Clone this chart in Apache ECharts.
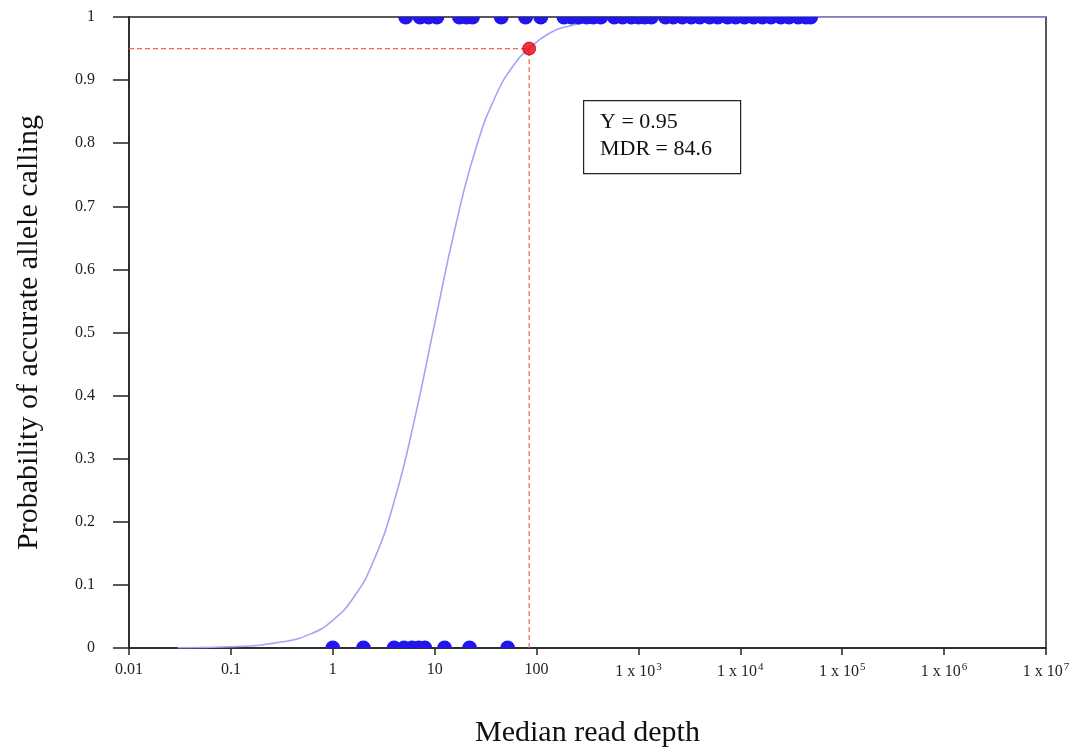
<!DOCTYPE html>
<html>
<head>
<meta charset="utf-8">
<script src="https://cdn.jsdelivr.net/npm/echarts@6/dist/echarts.min.js"></script>
<style>html,body{margin:0;padding:0;background:#fff}#c{width:1079px;height:747px}</style>
</head>
<body>
<div id="c"></div>
<script>
// ---- data ----
var xTickLabels = ['0.01','0.1','1','10','100','1 x 10{sup|3}','1 x 10{sup|4}','1 x 10{sup|5}','1 x 10{sup|6}','1 x 10{sup|7}'];
var yTickLabels = ['0','0.1','0.2','0.3','0.4','0.5','0.6','0.7','0.8','0.9','1'];
// observed failures (y = 0) by median read depth
var failDepths = [1, 2, 4, 5, 6, 7, 8, 12.5, 22, 52];
// observed successes (y = 1) by median read depth
var successDepths = [5.2, 7.2, 8.7, 10.5, 17.5, 20.5, 23.5, 45, 78, 110,
  186, 220, 260, 310, 360, 427,
  580, 700, 850, 1000, 1150, 1340,
  1840, 2200, 2700, 3300, 4000, 5000, 6000, 7500, 9000, 11000, 13500, 16500,
  20000, 25000, 30000, 37000, 44000, 49000];
// fitted curve
var curveX = [0.03, 0.1, 0.3, 0.6, 1, 1.6, 2.5, 4, 6.3, 10, 16, 25, 40, 63, 84.6, 130, 200, 400, 1000, 10000, 1e7];
var curveY = [0.0004, 0.002, 0.009, 0.022, 0.044, 0.080, 0.137, 0.232, 0.36, 0.514, 0.668, 0.788, 0.876, 0.929, 0.95, 0.973, 0.985, 0.994, 0.998, 1, 1];
// threshold point
var thresholdX = 84.6;
var thresholdY = 0.95;
var xMin = 0.01, xMax = 1e7;

var chart = echarts.init(document.getElementById('c'));
var serif = 'Liberation Serif';
// half-disc symbols (the dots are clipped by the plot frame)
var domeUp = 'path://M0,10 A10,10 0 0 1 20,10 Z';
var domeDown = 'path://M0,0 A10,10 0 0 0 20,0 Z';
var dotColor = '#2216ee';
var option = {
  animation: false,
  backgroundColor: '#fff',
  grid: { left: 129, top: 17, right: 33, bottom: 99, containLabel: false, outerBoundsMode: 'none',
          show: true, borderColor: '#222', borderWidth: 1.5 },
  xAxis: {
    type: 'log', logBase: 10, min: xMin, max: xMax, interval: 1,
    name: 'Median read depth', nameLocation: 'middle', nameGap: 70,
    nameTextStyle: { fontFamily: serif, fontSize: 30, color: '#111' },
    axisLine: { lineStyle: { color: '#222', width: 1.5 } },
    axisTick: { length: 7, lineStyle: { color: '#222', width: 1.5 } },
    splitLine: { show: false },
    axisLabel: {
      margin: 14, fontFamily: serif, fontSize: 16, color: '#222',
      formatter: function (v) {
        var e = Math.round(Math.log10(v));
        return xTickLabels[e + 2];
      },
      rich: { sup: { fontFamily: serif, fontSize: 11, color: '#222', padding: [0, 0, 9, 1] } }
    }
  },
  yAxis: {
    type: 'value', min: 0, max: 1, interval: 0.1,
    name: 'Probability of accurate allele calling', nameLocation: 'middle', nameGap: 85,
    nameTextStyle: { fontFamily: serif, fontSize: 30, color: '#111' },
    axisLine: { lineStyle: { color: '#222', width: 1.5 } },
    axisTick: { length: 16, lineStyle: { color: '#222', width: 1.5 } },
    splitLine: { show: false },
    axisLabel: {
      margin: 34, fontFamily: serif, fontSize: 16, color: '#222',
      formatter: function (v) { return yTickLabels[Math.round(v * 10)]; }
    }
  },
  series: [
    {
      type: 'line', smooth: 0.5, symbol: 'none', z: 2,
      lineStyle: { color: '#a4a4f6', width: 1.6 },
      data: curveX.map(function (x, i) { return [x, curveY[i]]; })
    },
    {
      type: 'scatter', symbol: domeUp, symbolKeepAspect: false, symbolSize: [15, 7.5], symbolOffset: [0, -3.75], z: 3,
      itemStyle: { color: dotColor, opacity: 1 },
      data: failDepths.map(function (x) { return [x, 0]; })
    },
    {
      type: 'scatter', symbol: domeDown, symbolKeepAspect: false, symbolSize: [15, 7.5], symbolOffset: [0, 3.75], z: 3,
      itemStyle: { color: dotColor, opacity: 1 },
      data: successDepths.map(function (x) { return [x, 1]; })
    },
    {
      type: 'line', symbol: 'none', z: 4,
      lineStyle: { color: '#f46464', width: 1.2, type: [5, 3] },
      data: [[xMin, thresholdY], [thresholdX, thresholdY]]
    },
    {
      type: 'line', symbol: 'none', z: 4,
      lineStyle: { color: '#f46464', width: 1.2, type: [5, 3] },
      data: [[thresholdX, 0], [thresholdX, thresholdY]]
    },
    {
      type: 'scatter', symbolSize: 13, z: 5,
      itemStyle: { color: '#ee0010', borderColor: '#c00010', borderWidth: 1 },
      data: [[thresholdX, thresholdY]]
    }
  ],
  graphic: [
    {
      type: 'rect', left: 583, top: 100, z: 10,
      shape: { width: 157, height: 73 },
      style: { fill: '#fff', stroke: '#222', lineWidth: 1.2 }
    },
    {
      type: 'text', left: 600, top: 109, z: 11,
      style: { text: 'Y = 0.95\nMDR = 84.6', font: '22px "Liberation Serif"', fill: '#111', lineHeight: 27 }
    }
  ]
};
chart.setOption(option);
</script>
</body>
</html>
